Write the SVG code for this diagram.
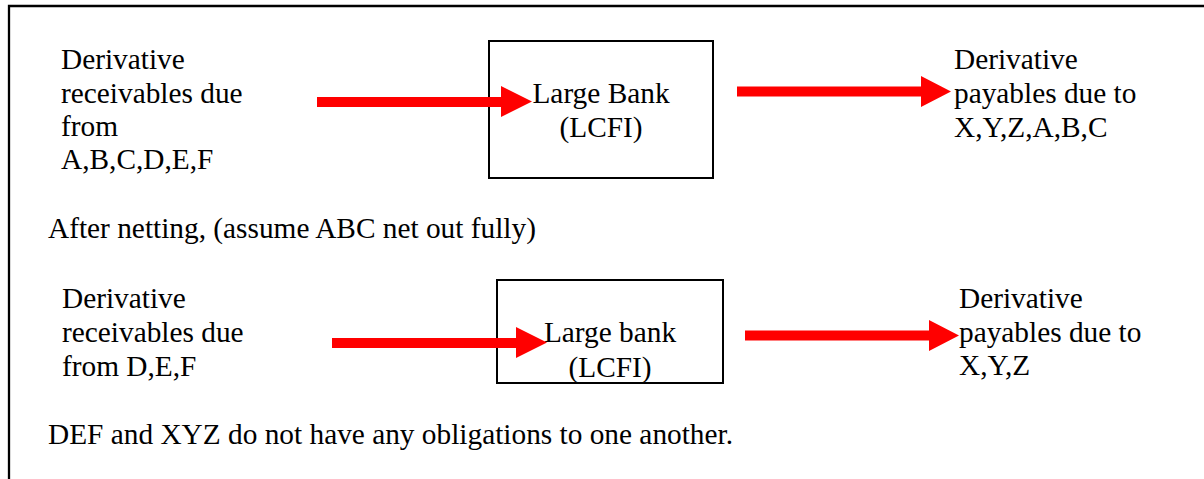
<svg xmlns="http://www.w3.org/2000/svg" width="1204" height="479" viewBox="0 0 1204 479">
  <style>
    .t { font-family: 'Liberation Serif', Tinos, 'Times New Roman', Times, 'DejaVu Serif', serif; font-size: 29.33px; fill: #000; }
    .c { text-anchor: middle; }
    .box { fill: none; stroke: #000; stroke-width: 2; }
    .frame { fill: none; stroke: #000; stroke-width: 2.3; }
    .arrow { fill: #FF0000; stroke: none; }
  </style>
  <rect width="1204" height="479" fill="#fff"/>
  <g id="frame">
    <path class="frame" d="M9,479 V6 H1204"/>
  </g>
  <g id="receivables-1">
    <text class="t" x="61" y="69">Derivative</text>
    <text class="t" x="61" y="103">receivables due</text>
    <text class="t" x="61" y="136">from</text>
    <text class="t" x="61" y="169">A,B,C,D,E,F</text>
  </g>
  <g id="bank-1">
    <rect class="box" x="489" y="41" width="224" height="137"/>
    <text class="t c" x="601" y="103">Large Bank</text>
    <text class="t c" x="601" y="137">(LCFI)</text>
  </g>
  <g id="payables-1">
    <text class="t" x="954" y="69">Derivative</text>
    <text class="t" x="954" y="103">payables due to</text>
    <text class="t" x="954" y="137">X,Y,Z,A,B,C</text>
  </g>
  <g id="note-1">
    <text class="t" x="48" y="238">After netting, (assume ABC net out fully)</text>
  </g>
  <g id="receivables-2">
    <text class="t" x="62" y="308">Derivative</text>
    <text class="t" x="62" y="342">receivables due</text>
    <text class="t" x="62" y="376">from D,E,F</text>
  </g>
  <g id="bank-2">
    <rect class="box" x="497" y="280" width="226" height="103"/>
    <text class="t c" x="610" y="342">Large bank</text>
    <text class="t c" x="610" y="377">(LCFI)</text>
  </g>
  <g id="payables-2">
    <text class="t" x="959" y="308">Derivative</text>
    <text class="t" x="959" y="342">payables due to</text>
    <text class="t" x="959" y="375">X,Y,Z</text>
  </g>
  <g id="note-2">
    <text class="t" x="48" y="444">DEF and XYZ do not have any obligations to one another.</text>
  </g>
  <g id="connectors">
    <polygon class="arrow" points="317,97 501,97 501,86 532,101.5 501,117 501,107 317,107"/>
    <polygon class="arrow" points="737,86.5 921,86.5 921,76 951,91.5 921,107 921,96.5 737,96.5"/>
    <polygon class="arrow" points="332,338 516,338 516,327 547,342.5 516,358 516,348 332,348"/>
    <polygon class="arrow" points="745,330.5 929,330.5 929,320 959,335.5 929,351 929,340.5 745,340.5"/>
  </g>
</svg>
